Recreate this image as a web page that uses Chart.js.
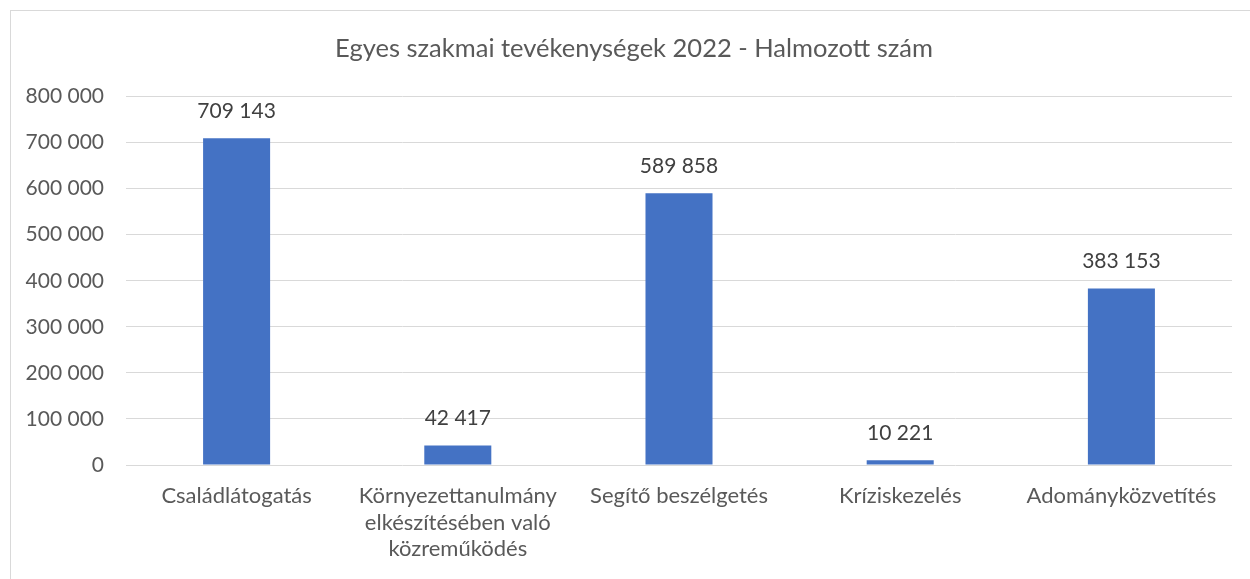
<!DOCTYPE html>
<html>
<head>
<meta charset="utf-8">
<script src="https://cdn.jsdelivr.net/npm/chart.js@4/dist/chart.umd.min.js"></script>
<style>
  html, body { margin: 0; padding: 0; background: #ffffff; }
  body { width: 1250px; height: 579px; overflow: hidden; position: relative; }
  #frame { position: absolute; left: 10px; top: 10px; width: 1250px; height: 600px; border: 1px solid #d9d9d9; box-sizing: border-box; }
  #wrap { position: absolute; left: 0; top: 0; width: 1250px; height: 579px; }
</style>
</head>
<body>
<div id="frame"></div>
<div id="wrap"><canvas id="c" width="1250" height="579"></canvas></div>
<script>
const titleText = "Egyes szakmai tevékenységek 2022 - Halmozott szám";
const categories = [
  "Családlátogatás",
  ["Környezettanulmány", "elkészítésében való", "közreműködés"],
  "Segítő beszélgetés",
  "Kríziskezelés",
  "Adományközvetítés"
];
const values = [709143, 42417, 589858, 10221, 383153];
const yMin = 0;
const yMax = 800000;
const yStep = 100000;

function fmt(v) {
  return String(v).replace(/\B(?=(\d{3})+(?!\d))/g, " ");
}

const dataLabels = {
  id: "dataLabels",
  afterDatasetsDraw(chart) {
    const ctx = chart.ctx;
    ctx.save();
    ctx.font = "21px Lato";
    ctx.fillStyle = "#404040";
    ctx.textAlign = "center";
    ctx.textBaseline = "middle";
    chart.getDatasetMeta(0).data.forEach((bar, i) => {
      ctx.fillText(fmt(values[i]), bar.x, bar.y - 27);
    });
    ctx.restore();
  }
};

const chartTitle = {
  id: "chartTitle",
  afterDraw(chart) {
    const ctx = chart.ctx;
    ctx.save();
    ctx.font = "25.5px Lato";
    ctx.fillStyle = "#595959";
    ctx.textAlign = "center";
    ctx.textBaseline = "middle";
    ctx.fillText(titleText, 634, 48.5);
    ctx.restore();
  }
};

new Chart(document.getElementById("c"), {
  type: "bar",
  data: {
    labels: categories,
    datasets: [{
      data: values,
      backgroundColor: "#4472C4",
      borderWidth: 0,
      barPercentage: 0.6,
      categoryPercentage: 0.505
    }]
  },
  options: {
    responsive: false,
    animation: false,
    devicePixelRatio: 1,
    layout: { padding: { left: 0, right: 18, top: 96.5, bottom: 0 } },
    plugins: {
      legend: { display: false },
      tooltip: { enabled: false },
      title: { display: false }
    },
    scales: {
      x: {
        grid: { display: false, drawTicks: false },
        border: { display: false },
        ticks: {
          color: "#595959",
          font: { family: "Lato", size: 22, lineHeight: "26.5px" },
          padding: 18,
          maxRotation: 0,
          autoSkip: false
        },
        afterFit(scale) { scale.height = 114; }
      },
      y: {
        min: yMin,
        max: yMax,
        grid: { color: "#d9d9d9", lineWidth: 1, drawTicks: false },
        border: { display: false },
        ticks: {
          stepSize: yStep,
          color: "#595959",
          font: { family: "Lato", size: 21 },
          padding: 22,
          callback: (v) => fmt(v)
        },
        afterFit(scale) { scale.width = 126; }
      }
    }
  },
  plugins: [dataLabels, chartTitle]
});
</script>
</body>
</html>
